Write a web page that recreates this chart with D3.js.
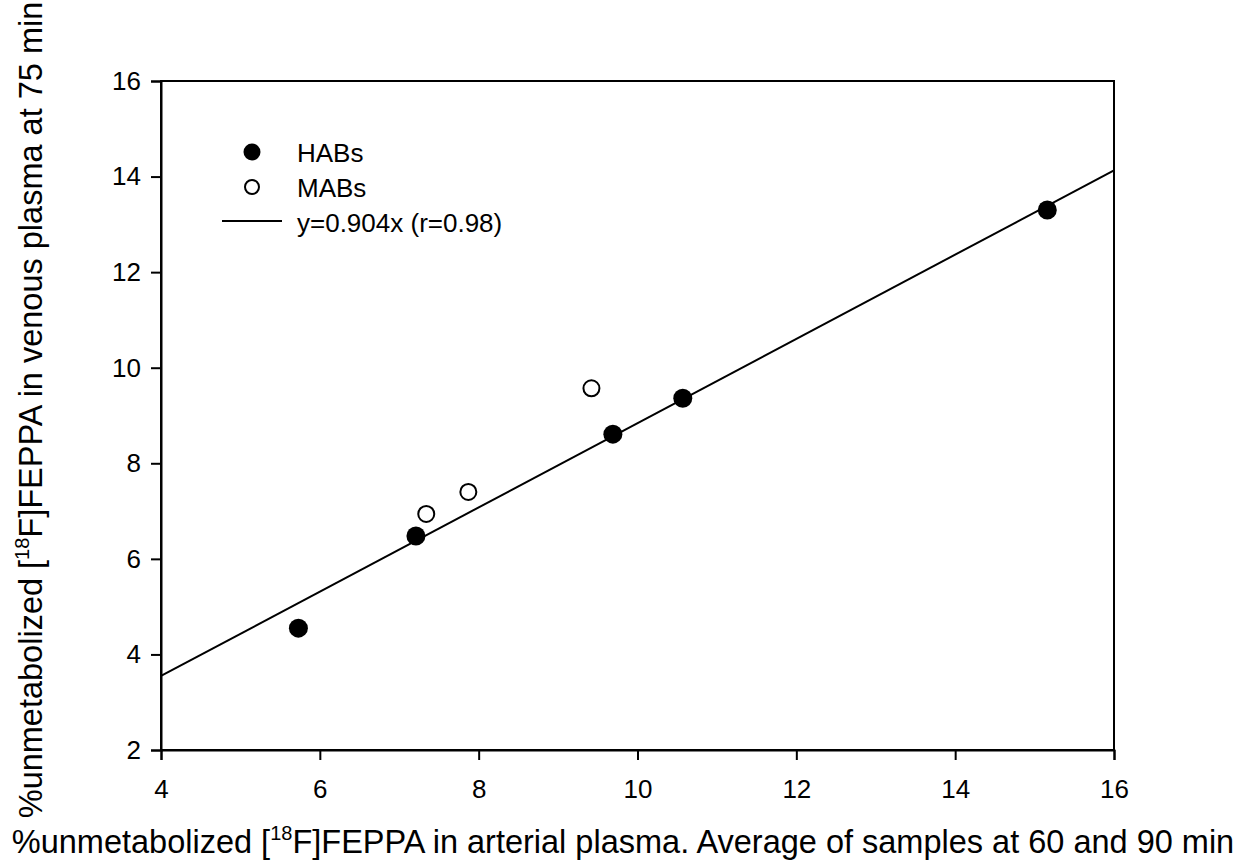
<!DOCTYPE html>
<html>
<head>
<meta charset="utf-8">
<script src="https://cdn.jsdelivr.net/npm/d3@7"></script>
<style>
body{margin:0;background:#fff;}
text{font-family:"Liberation Sans",Arial,sans-serif;fill:#000;}
</style>
</head>
<body>
<svg id="chart" width="1248" height="867"></svg>
<script>
// data
var habX = [5.73, 7.21, 9.69, 10.57, 15.16];
var habY = [4.55, 6.48, 8.61, 9.36, 13.30];
var mabX = [7.34, 7.87, 9.42];
var mabY = [6.94, 7.40, 9.57];
var fitX = [4, 16];
var fitY = [3.55, 14.13];
var xTicks = [4, 6, 8, 10, 12, 14, 16];
var yTicks = [2, 4, 6, 8, 10, 12, 14, 16];
var legendLabels = ["HABs", "MABs", "y=0.904x (r=0.98)"];

var svg = d3.select("#chart");
var pLeft = 161, pRight = 1114, pTop = 81, pBottom = 750;

var x = d3.scaleLinear().domain([4, 16]).range([pLeft, pRight]);
var y = d3.scaleLinear().domain([2, 16]).range([pBottom, pTop]);

// frame
svg.append("rect")
    .attr("x", pLeft).attr("y", pTop)
    .attr("width", pRight-pLeft).attr("height", pBottom-pTop)
    .attr("fill", "none").attr("stroke", "#000").attr("stroke-width", 2);

var xAxis = svg.append("g")
    .attr("transform", "translate(0," + pBottom + ")")
    .call(d3.axisBottom(x).tickValues(xTicks).tickSize(10).tickPadding(20).tickFormat(d3.format("d")));
var yAxis = svg.append("g")
    .attr("transform", "translate(" + pLeft + ",0)")
    .call(d3.axisLeft(y).tickValues(yTicks).tickSize(10).tickPadding(10).tickFormat(d3.format("d")));
[xAxis, yAxis].forEach(function(a){
    a.attr("font-family", null).attr("font-size", null);
    a.select(".domain").attr("stroke-width", 2);
    a.selectAll(".tick line").attr("stroke-width", 2);
    a.selectAll("text").style("font-size", "26px");
});

// fit line
var line = d3.line().x(function(d){return x(d[0]);}).y(function(d){return y(d[1]);});
svg.append("path")
    .datum(fitX.map(function(v, i){return [v, fitY[i]];}))
    .attr("d", line)
    .attr("fill", "none").attr("stroke", "#000").attr("stroke-width", 2);

// points
svg.selectAll("circle.hab")
    .data(habX.map(function(v, i){return [v, habY[i]];}))
    .enter().append("circle").attr("class", "hab")
    .attr("cx", function(d){return x(d[0]);})
    .attr("cy", function(d){return y(d[1]);})
    .attr("r", 9.5).attr("fill", "#000");
svg.selectAll("circle.mab")
    .data(mabX.map(function(v, i){return [v, mabY[i]];}))
    .enter().append("circle").attr("class", "mab")
    .attr("cx", function(d){return x(d[0]);})
    .attr("cy", function(d){return y(d[1]);})
    .attr("r", 8).attr("fill", "#fff").attr("stroke", "#000").attr("stroke-width", 2);

// legend
var lg = svg.append("g");
lg.append("circle").attr("cx", 252).attr("cy", 152).attr("r", 8.5).attr("fill", "#000");
lg.append("circle").attr("cx", 252).attr("cy", 187).attr("r", 7).attr("fill", "#fff").attr("stroke", "#000").attr("stroke-width", 2);
lg.append("line").attr("x1", 222).attr("x2", 282).attr("y1", 221).attr("y2", 221).attr("stroke", "#000").attr("stroke-width", 2);
lg.selectAll("text").data(legendLabels).enter().append("text")
    .attr("x", 297).attr("y", function(d, i){return 162 + i*35;})
    .style("font-size", "26px")
    .text(function(d){return d;});

// axis titles
var xt = svg.append("text")
    .attr("x", 623).attr("y", 853)
    .attr("text-anchor", "middle").style("font-size", "32.5px");
xt.append("tspan").text("%unmetabolized [");
xt.append("tspan").attr("dy", -13).style("font-size", "20px").text("18");
xt.append("tspan").attr("dy", 13).text("F]FEPPA in arterial plasma. Average of samples at 60 and 90 min");

var yt = svg.append("text")
    .attr("transform", "translate(42,410) rotate(-90)")
    .attr("text-anchor", "middle").style("font-size", "32.5px");
yt.append("tspan").text("%unmetabolized [");
yt.append("tspan").attr("dy", -13).style("font-size", "20px").text("18");
yt.append("tspan").attr("dy", 13).text("F]FEPPA in venous plasma at 75 min");
</script>
</body>
</html>
